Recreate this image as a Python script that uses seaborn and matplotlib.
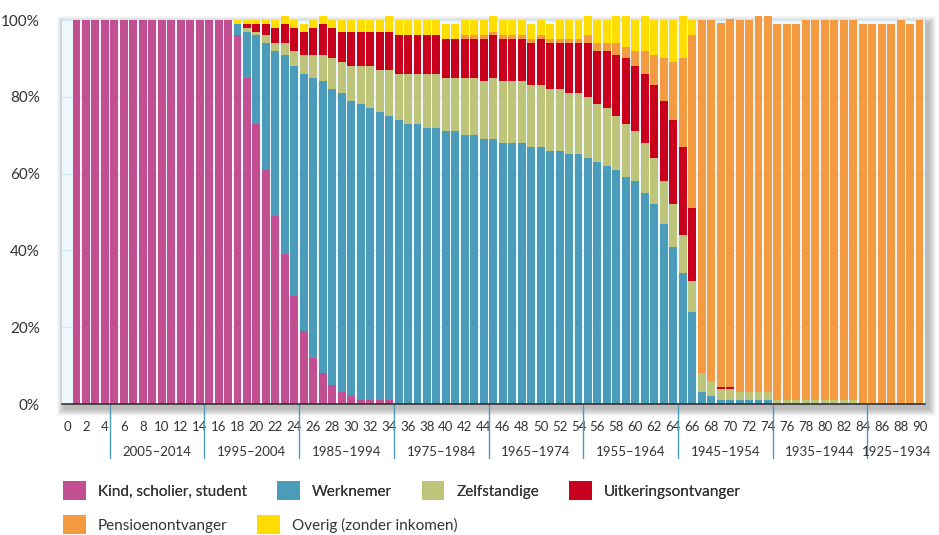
"""
Inkomenspositie naar leeftijd: gestapelde staven per leeftijdsjaar (0-90).
"""
import pandas as pd
import seaborn as sns
import matplotlib.pyplot as plt
import matplotlib.transforms as mtransforms
from matplotlib.patches import Patch, Rectangle

# Data: share (%) per age 0..90, one list per category
ages = list(range(0, 91))

kind = [0, 100, 100, 100, 100, 100, 100, 100, 100, 100,
        100, 100, 100, 100, 100, 100, 100, 100, 96, 85,
        73, 61, 49, 39, 28, 19, 12, 8, 5, 3,
        2, 1, 1, 1, 1, 0, 0, 0, 0, 0,
        0, 0, 0, 0, 0, 0, 0, 0, 0, 0,
        0, 0, 0, 0, 0, 0, 0, 0, 0, 0,
        0, 0, 0, 0, 0, 0, 0, 0, 0, 0,
        0, 0, 0, 0, 0, 0, 0, 0, 0, 0,
        0, 0, 0, 0, 0, 0, 0, 0, 0, 0,
        0]

werknemer = [0, 0, 0, 0, 0, 0, 0, 0, 0, 0,
             0, 0, 0, 0, 0, 0, 0, 0, 3, 12,
             23, 33, 43, 52, 60, 67, 73, 76, 77, 78,
             77, 77, 76, 75, 74, 74, 73, 73, 72, 72,
             71, 71, 70, 70, 69, 69, 68, 68, 68, 67,
             67, 66, 66, 65, 65, 64, 63, 62, 61, 59,
             58, 55, 52, 47, 41, 34, 24, 3, 2, 1,
             1, 1, 1, 1, 1, 0, 0, 0, 0, 0,
             0, 0, 0, 0, 0, 0, 0, 0, 0, 0,
             0]

zelfstandige = [0, 0, 0, 0, 0, 0, 0, 0, 0, 0,
                0, 0, 0, 0, 0, 0, 0, 0, 0, 1,
                1, 2, 2, 3, 4, 5, 6, 7, 8, 8,
                9, 10, 11, 11, 12, 12, 13, 13, 14, 14,
                14, 14, 15, 15, 15, 16, 16, 16, 16, 16,
                16, 16, 16, 16, 16, 16, 15, 15, 14, 14,
                13, 13, 12, 11, 11, 10, 8, 5, 4, 3,
                3, 2, 2, 2, 2, 1, 1, 1, 1, 1,
                1, 1, 1, 1, 0, 0, 0, 0, 0, 0,
                0]

uitkering = [0, 0, 0, 0, 0, 0, 0, 0, 0, 0,
             0, 0, 0, 0, 0, 0, 0, 0, 0, 1,
             2, 3, 4, 5, 6, 6, 7, 8, 8, 8,
             9, 9, 9, 10, 10, 10, 10, 10, 10, 10,
             10, 10, 10, 10, 11, 11, 11, 11, 11, 11,
             12, 12, 12, 13, 13, 14, 14, 15, 16, 17,
             17, 18, 19, 21, 22, 23, 19, 0, 0, 0.3,
             0.3, 0, 0, 0, 0, 0, 0, 0, 0, 0,
             0, 0, 0, 0, 0, 0, 0, 0, 0, 0,
             0]

pensioen = [0, 0, 0, 0, 0, 0, 0, 0, 0, 0,
            0, 0, 0, 0, 0, 0, 0, 0, 0, 0,
            0, 0, 0, 0, 0, 0, 0, 0, 0, 0,
            0, 0, 0, 0, 0, 0, 0, 0, 0, 0,
            0, 0, 1, 1, 1, 1, 1, 1, 1, 1,
            1, 1, 1, 1, 1, 2, 2, 2, 3, 3,
            4, 6, 8, 11, 15, 23, 45, 92, 94, 95,
            96, 97, 97, 98, 98, 98, 98, 98, 99, 99,
            99, 99, 99, 99, 99, 99, 99, 99, 100, 99,
            100]

overig = [0, 0, 0, 0, 0, 0, 0, 0, 0, 0,
          0, 0, 0, 0, 0, 0, 0, 0, 1, 1,
          1, 1, 2, 2, 2, 2, 2, 2, 2, 3,
          3, 3, 3, 3, 4, 4, 4, 4, 4, 4,
          4, 4, 4, 4, 4, 4, 4, 4, 4, 4,
          4, 4, 5, 5, 5, 5, 6, 6, 7, 8,
          8, 9, 9, 10, 11, 11, 4, 0, 0, 0,
          0, 0, 0, 0, 0, 0, 0, 0, 0, 0,
          0, 0, 0, 0, 0, 0, 0, 0, 0, 0,
          0]

categories = ['Kind, scholier, student', 'Werknemer', 'Zelfstandige',
              'Uitkeringsontvanger', 'Pensioenontvanger', 'Overig (zonder inkomen)']
series = [kind, werknemer, zelfstandige, uitkering, pensioen, overig]
colors = ['#c14f91', '#4a9cba', '#bec47a', '#c8001e', '#f49a40', '#ffdd00']

periods = ['2005–2014', '1995–2004', '1985–1994', '1975–1984', '1965–1974',
           '1955–1964', '1945–1954', '1935–1944', '1925–1934']
period_edges = [4.5, 14.5, 24.5, 34.5, 44.5, 54.5, 64.5, 74.5, 84.5]


def build_frame() -> pd.DataFrame:
    frames = []
    for name, vals in zip(categories, series):
        frames.append(pd.DataFrame({'age': ages, 'pct': vals, 'category': name}))
    return pd.concat(frames, ignore_index=True)


def main():
    sns.set_theme(style='white')
    plt.rcParams['font.family'] = ['Lato', 'DejaVu Sans']
    text_color = '#333333'

    df = build_frame()
    palette = dict(zip(categories, colors))

    fig = plt.figure(figsize=(9.39, 5.35), dpi=100)
    x0, y0, w, h = 62 / 939, 1 - 404 / 535, 863 / 939, 384 / 535
    ax = fig.add_axes([x0, y0, w, h])
    ax.set_facecolor('#eef7fc')

    # soft drop shadow around the plot area
    for i in range(1, 10):
        dx, dy = i * 0.9 / 939, i * 0.9 / 535
        fig.add_artist(Rectangle((x0 - dx + 3 / 939, y0 - dy - 4 / 535), w + 2 * dx, h + 2 * dy,
                                 transform=fig.transFigure, facecolor='#000000',
                                 alpha=0.03, edgecolor='none', zorder=-1))

    # stacked bars; seaborn puts the first hue level on top, so reverse the order
    sns.histplot(data=df, x='age', weights='pct', hue='category',
                 hue_order=categories[::-1], palette=palette, multiple='stack',
                 discrete=True, shrink=0.84, linewidth=0, alpha=1,
                 legend=False, ax=ax)
    for p in ax.patches:
        p.set_clip_on(False)

    ax.set_xlim(-0.53, 90.58)
    ax.set_ylim(0, 100)
    ax.set_xlabel('')
    ax.set_ylabel('')

    ax.set_yticks([0, 20, 40, 60, 80, 100])
    ax.set_yticklabels(['0%', '20%', '40%', '60%', '80%', '100%'])
    ax.set_xticks(list(range(0, 91, 2)))
    ax.set_xticklabels([str(a) for a in range(0, 91, 2)])
    ax.tick_params(axis='y', length=0, pad=16, labelsize=11, labelcolor=text_color)
    ax.tick_params(axis='x', length=0, pad=12, labelsize=9.5, labelcolor=text_color)

    ax.yaxis.grid(True, color='#d2e9f5', lw=1)
    ax.xaxis.grid(False)
    ax.set_axisbelow(True)
    for s in ['top', 'right', 'left']:
        ax.spines[s].set_visible(False)
    ax.spines['bottom'].set_color('#333333')
    ax.spines['bottom'].set_linewidth(1.2)

    # birth-year period dividers and labels below the axis
    trans = mtransforms.blended_transform_factory(ax.transData, ax.transAxes)
    for e in period_edges:
        ax.plot([e, e], [0, -0.1406], transform=trans, clip_on=False,
                color='#4a9cba', lw=1)
    centers = [(a + b) / 2 for a, b in zip(period_edges[:-1], period_edges[1:])]
    centers.append((period_edges[-1] + 90.58) / 2)
    for c, lab in zip(centers, periods):
        ax.text(c, -0.125, lab, transform=trans, ha='center', va='center',
                fontsize=9.5, color=text_color)

    # legend in two rows
    handles = [Patch(facecolor=c, edgecolor='none') for c in colors]
    leg_kw = dict(loc='center left', frameon=False, handlelength=1.5,
                  handleheight=1.44, handletextpad=0.78, columnspacing=1.96,
                  fontsize=11, borderpad=0, borderaxespad=0, labelcolor=text_color)
    leg1 = fig.legend(handles[:4], categories[:4], ncol=4,
                      bbox_to_anchor=(63 / 939, 1 - 490.5 / 535), **leg_kw)
    fig.add_artist(leg1)
    fig.legend(handles[4:], categories[4:], ncol=2,
               bbox_to_anchor=(63 / 939, 1 - 524.5 / 535), **leg_kw)

    fig.savefig('out.png', dpi=100, facecolor='white')


if __name__ == "__main__":
    main()
